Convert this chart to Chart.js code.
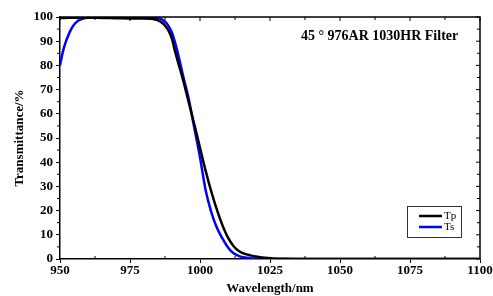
<!DOCTYPE html>
<html>
<head>
<meta charset="utf-8">
<script src="https://cdn.jsdelivr.net/npm/chart.js@4.4.1/dist/chart.umd.min.js"></script>
<style>
  html, body { margin: 0; padding: 0; background: #fff; }
  #wrap { width: 493px; height: 296px; }
</style>
</head>
<body>
<div id="wrap"><canvas id="chart" width="493" height="296"></canvas></div>
<script>
// wavelength grid (nm) shared by both curves
const wavelengths = [950, 951, 952, 953, 954, 955, 956, 957, 958, 960, 965, 970, 975, 980, 982, 984, 985, 986, 987, 988,
    989, 990, 991, 992, 994, 996, 998, 1000, 1002, 1004, 1006, 1008, 1010, 1012, 1014, 1016, 1018, 1020, 1023, 1026,
    1030, 1040, 1060, 1080, 1100];
const tpValues = [99.5, 99.6, 99.6, 99.7, 99.7, 99.7, 99.7, 99.7, 99.7, 99.7, 99.6, 99.5, 99.4, 99.4, 99.3, 99.0, 98.6, 98.0, 97.1, 95.7,
    93.8, 91, 86.2, 82, 73.8, 64.6, 55.5, 46, 36.5, 28, 20.5, 14, 8.8, 5.3, 3.2, 2.1, 1.5, 1.0, 0.5, 0.25,
    0.1, 0.03, 0, 0, 0];
const tsValues = [80, 85.5, 89.5, 92.5, 95, 96.8, 98, 98.8, 99.3, 99.7, 99.8, 99.8, 99.8, 99.8, 99.8, 99.7, 99.5, 99.2, 98.6, 97.5,
    95.8, 93.5, 89.8, 85.5, 75.5, 66, 54, 42, 28.5, 19.5, 13, 8.5, 4.8, 2.4, 1.2, 0.6, 0.35, 0.2, 0.1, 0.05,
    0.02, 0, 0, 0, 0];
const seriesLabels = ['Tp', 'Ts'];
const xTicks = [950, 975, 1000, 1025, 1050, 1075, 1100];
const yTicks = [0, 10, 20, 30, 40, 50, 60, 70, 80, 90, 100];
const chartNote = '45 \u00b0 976AR 1030HR Filter';

const serif = "'Liberation Serif', 'Times New Roman', serif";

function toPoints(ys) {
    return wavelengths.map((x, i) => ({ x: x, y: ys[i] }));
}

// frame, minor ticks, note text and legend box
const framePlugin = {
    id: 'frame',
    afterDraw(chart) {
        const ctx = chart.ctx;
        const a = chart.chartArea;
        const xs = chart.scales.x;
        const ys = chart.scales.y;
        ctx.save();
        ctx.strokeStyle = '#000';
        ctx.lineWidth = 1.5;
        ctx.beginPath();
        ctx.moveTo(a.left, a.top);
        ctx.lineTo(a.right, a.top);
        ctx.lineTo(a.right, a.bottom);
        ctx.stroke();

        ctx.lineWidth = 1;
        ctx.beginPath();
        // minor ticks
        for (let i = 0; i < xTicks.length - 1; i++) {
            const px = xs.getPixelForValue((xTicks[i] + xTicks[i + 1]) / 2);
            ctx.moveTo(px, a.bottom); ctx.lineTo(px, a.bottom - 3);
            ctx.moveTo(px, a.top); ctx.lineTo(px, a.top + 3);
        }
        for (let i = 0; i < yTicks.length - 1; i++) {
            const py = ys.getPixelForValue((yTicks[i] + yTicks[i + 1]) / 2);
            ctx.moveTo(a.left, py); ctx.lineTo(a.left - 3, py);
            ctx.moveTo(a.right, py); ctx.lineTo(a.right - 3, py);
        }
        // major ticks on top / right
        xTicks.forEach(v => {
            const px = xs.getPixelForValue(v);
            ctx.moveTo(px, a.top); ctx.lineTo(px, a.top + 4);
        });
        yTicks.forEach(v => {
            const py = ys.getPixelForValue(v);
            ctx.moveTo(a.right, py); ctx.lineTo(a.right - 4, py);
        });
        ctx.stroke();

        // note
        ctx.fillStyle = '#000';
        ctx.font = 'bold 14px ' + serif;
        ctx.textBaseline = 'middle';
        ctx.textAlign = 'left';
        ctx.fillText(chartNote, 301, 36);

        // legend
        const bx = 407, by = 206, bw = 54, bh = 31;
        ctx.lineWidth = 1;
        ctx.strokeStyle = '#333';
        ctx.strokeRect(bx + 0.5, by + 0.5, bw, bh);
        ctx.font = '11px ' + serif;
        chart.data.datasets.forEach((ds, i) => {
            const ly = by + 10 + i * 11;
            ctx.strokeStyle = ds.borderColor;
            ctx.lineWidth = 2.5;
            ctx.beginPath();
            ctx.moveTo(bx + 12, ly);
            ctx.lineTo(bx + 35, ly);
            ctx.stroke();
            ctx.fillStyle = '#000';
            ctx.fillText(ds.label, bx + 37, ly);
        });
        ctx.restore();
    }
};

new Chart(document.getElementById('chart'), {
    type: 'line',
    data: {
        datasets: [
            { label: seriesLabels[0], data: toPoints(tpValues), borderColor: '#000000', borderWidth: 2.5,
              pointRadius: 0, cubicInterpolationMode: 'monotone', fill: false },
            { label: seriesLabels[1], data: toPoints(tsValues), borderColor: '#0000ff', borderWidth: 2.5,
              pointRadius: 0, cubicInterpolationMode: 'monotone', fill: false }
        ]
    },
    options: {
        responsive: false,
        animation: false,
        layout: { padding: { left: 0, top: 17, right: 13, bottom: 0 } },
        plugins: { legend: { display: false }, tooltip: { enabled: false } },
        scales: {
            x: {
                type: 'linear', min: 950, max: 1100,
                afterBuildTicks: s => { s.ticks = xTicks.map(v => ({ value: v })); },
                afterFit: s => { s.height = 37; },
                ticks: { color: '#000', font: { family: serif, weight: 'bold', size: 13 }, padding: 0, maxRotation: 0,
                         callback: v => String(v) },
                grid: { drawOnChartArea: false, drawTicks: true, tickLength: 4, color: '#000', lineWidth: 1 },
                border: { display: true, color: '#000', width: 1.5 },
                title: { display: true, text: 'Wavelength/nm', color: '#000',
                         font: { family: serif, weight: 'bold', size: 13 }, padding: 0 }
            },
            y: {
                type: 'linear', min: 0, max: 100,
                afterBuildTicks: s => { s.ticks = yTicks.map(v => ({ value: v })); },
                afterFit: s => { s.width = 60; },
                ticks: { color: '#000', font: { family: serif, weight: 'bold', size: 13 }, padding: 3,
                         callback: v => String(v) },
                grid: { drawOnChartArea: false, drawTicks: true, tickLength: 4, color: '#000', lineWidth: 1 },
                border: { display: true, color: '#000', width: 1.5 },
                title: { display: true, text: 'Transmittance/%', color: '#000',
                         font: { family: serif, weight: 'bold', size: 13 }, padding: { top: 12, bottom: 0 } }
            }
        }
    },
    plugins: [framePlugin]
});
</script>
</body>
</html>
